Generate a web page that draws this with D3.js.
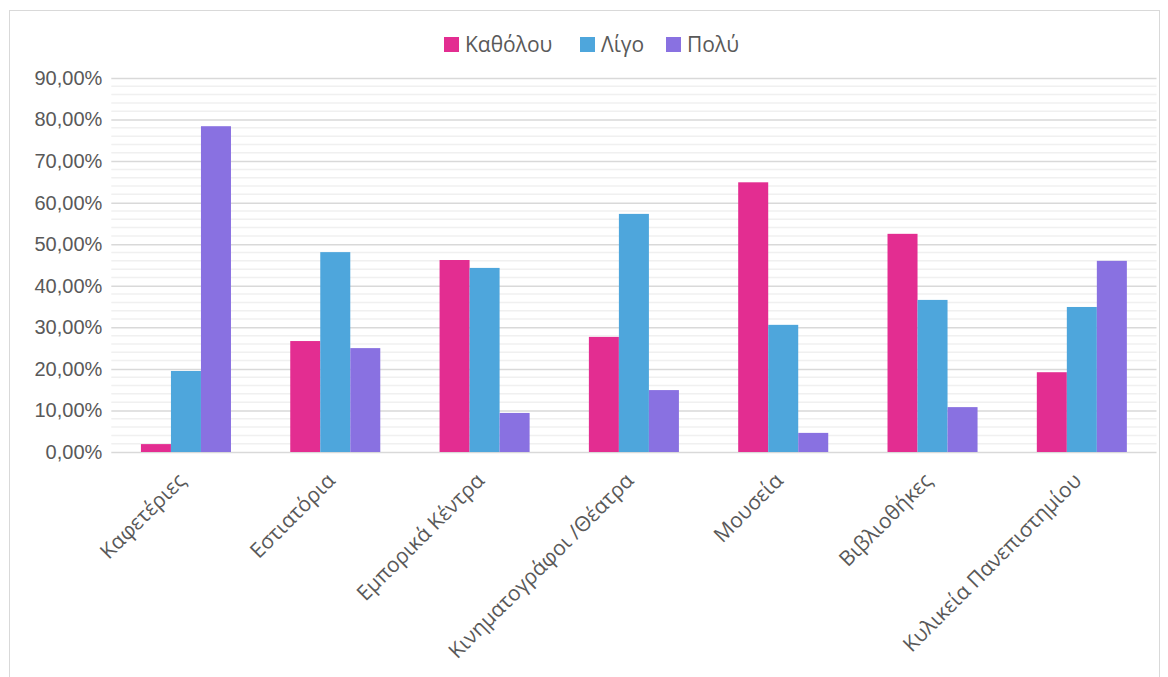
<!DOCTYPE html>
<html><head><meta charset="utf-8">
<script src="https://cdn.jsdelivr.net/npm/d3@7"></script>
<style>body{margin:0;background:#fff}svg{display:block;font-family:"Open Sans",sans-serif}</style>
</head><body><svg id="c" width="1168" height="677"></svg>
<script>
const categories = ["Καφετέριες","Εστιατόρια","Εμπορικά Κέντρα","Κινηματογράφοι /Θέατρα","Μουσεία","Βιβλιοθήκες","Κυλικεία Πανεπιστημίου"];
const seriesNames = ["Καθόλου","Λίγο","Πολύ"];
const katholou = [1.9, 26.7, 46.2, 27.7, 64.9, 52.5, 19.2];
const ligo = [19.5, 48.1, 44.3, 57.3, 30.6, 36.6, 34.9];
const poly = [78.4, 25.0, 9.4, 14.9, 4.6, 10.8, 46.0];
const colors = ["#e32d91","#4ea6dc","#8971e1"];
const yTicks = [0,10,20,30,40,50,60,70,80,90];

(function(){
const svg = d3.select("#c");
svg.append("rect").attr("x",9.5).attr("y",10.5).attr("width",1150).attr("height",720)
  .attr("fill","none").attr("stroke","#d9d9d9");

const pLeft = 111.3, pRight = 1156.5, pTop = 78, pBottom = 452;
const x = d3.scaleBand().domain(categories).range([pLeft,pRight]).paddingInner(0.397).paddingOuter(0.1985);
const x1 = d3.scaleBand().domain(seriesNames).range([0,x.bandwidth()]);
const y = d3.scaleLinear().domain([0,90]).range([pBottom,pTop]);

const minor = d3.range(0,91,2).filter(v=>v%10!==0);
svg.append("g").selectAll("line").data(minor).join("line")
  .attr("x1",pLeft).attr("x2",pRight).attr("y1",d=>y(d)).attr("y2",d=>y(d))
  .attr("stroke","#f0f0f0").attr("stroke-width",1.5);
const yAxis = d3.axisLeft(y).tickValues(yTicks).tickSize(-(pRight-pLeft)).tickPadding(9)
  .tickFormat(d=>d3.format(".2f")(d).replace(".",",")+"%");
const ga = svg.append("g").attr("transform",`translate(${pLeft},0)`).call(yAxis);
ga.select(".domain").remove();
ga.selectAll(".tick line").attr("stroke","#d9d9d9").attr("stroke-width",1.5);
ga.selectAll(".tick text").attr("fill","#595959").style("font-size","20px");

const data = categories.map((c,i)=>({c, vals:[katholou[i],ligo[i],poly[i]]}));
const g = svg.append("g");
data.forEach(d=>{
  g.append("g").attr("transform",`translate(${x(d.c)},0)`)
   .selectAll("rect").data(d.vals.map((v,j)=>({v,s:seriesNames[j],j}))).join("rect")
   .attr("x",e=>x1(e.s)).attr("width",x1.bandwidth())
   .attr("y",e=>y(e.v)).attr("height",e=>y(0)-y(e.v))
   .attr("fill",e=>colors[e.j]);
});

const xl = svg.append("g");
categories.forEach(c=>{
  const cx = x(c)+x.bandwidth()/2;
  xl.append("text").attr("transform",`translate(${cx+1},${pBottom+30}) rotate(-45)`)
    .attr("text-anchor","end").attr("fill","#595959")
    .style("font-size","21px").text(c);
});

const legX = [444, 580, 666];
const lg = svg.append("g");
seriesNames.forEach((s,i)=>{
  lg.append("rect").attr("x",legX[i]).attr("y",37).attr("width",15).attr("height",15).attr("fill",colors[i]);
  lg.append("text").attr("x",legX[i]+21).attr("y",45).attr("dy","0.35em")
    .attr("fill","#595959").style("font-size","21px").text(s);
});
})();
</script></body></html>
